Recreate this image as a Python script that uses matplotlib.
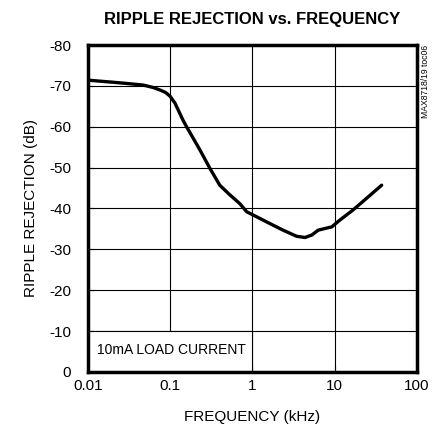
import matplotlib
matplotlib.use('Agg')
from matplotlib import pyplot as plt
from matplotlib.patches import Rectangle
from matplotlib.ticker import FixedLocator, FixedFormatter

plt.rcParams['axes.unicode_minus'] = False
plt.rcParams['font.family'] = ['Liberation Sans Narrow', 'Liberation Sans', 'DejaVu Sans']

# curve
freq = [0.01, 0.02, 0.0295, 0.047, 0.0622, 0.075, 0.0875, 0.0993, 0.114, 0.143, 0.158,
        0.23, 0.304, 0.40, 0.533, 0.70, 0.85, 1.02, 1.49, 2.35, 3.44, 4.35, 5.25, 6.3,
        7.6, 9.2, 11.6, 16.6, 24.4, 37.2]
rej = [-71.4, -70.9, -70.6, -70.2, -69.6, -69.0, -68.4, -67.5, -65.8, -61.6, -60.0,
       -54.3, -49.8, -45.7, -43.3, -41.2, -39.2, -38.4, -36.7, -34.7, -33.2, -32.9,
       -33.5, -34.7, -35.1, -35.5, -37.2, -39.6, -42.5, -45.7]

x_ticks = [0.01, 0.1, 1, 10, 100]
x_labels = ['0.01', '0.1', '1', '10', '100']
y_ticks = [0, -10, -20, -30, -40, -50, -60, -70, -80]
y_labels = ['0', '-10', '-20', '-30', '-40', '-50', '-60', '-70', '-80']

fig = plt.figure(figsize=(4.4, 4.33), dpi=100)
ax = fig.add_axes([0.2, 0.141, 0.7477, 0.755])

ax.set_xscale('log')
ax.set_xlim(0.01, 100)
ax.set_ylim(0, -80)
ax.xaxis.set_major_locator(FixedLocator(x_ticks))
ax.xaxis.set_major_formatter(FixedFormatter(x_labels))
ax.xaxis.set_minor_locator(FixedLocator([]))
ax.yaxis.set_major_locator(FixedLocator(y_ticks))
ax.yaxis.set_major_formatter(FixedFormatter(y_labels))

ax.grid(True, color='black', linewidth=0.8, zorder=1)
ax.tick_params(direction='in', length=4, width=0.8, labelsize=11, color='black')
ax.tick_params(axis='y', pad=12)
ax.tick_params(axis='x', pad=5)
for s in ax.spines.values():
    s.set_linewidth(2.5)

ax.plot(freq, rej, color='black', linewidth=2.4, solid_capstyle='round',
        solid_joinstyle='round', zorder=3)

# label box in lower-left corner
ax.add_patch(Rectangle((0.01, 0), 1 - 0.01, -10, facecolor='white', edgecolor='black',
                       linewidth=0.8, zorder=2))
ax.text(0.0129, -5.4, '10mA LOAD CURRENT', fontsize=10, va='center', ha='left', zorder=4)

ax.set_xlabel('FREQUENCY (kHz)', fontsize=11, labelpad=12)
ax.set_ylabel('RIPPLE REJECTION (dB)', fontsize=11, labelpad=8)
fig.text(0.572, 0.956, 'RIPPLE REJECTION vs. FREQUENCY', fontsize=12, fontweight='bold',
         ha='center', va='center')
fig.text(0.966, 0.813, 'MAX8718/19 toc06', fontsize=6.2, rotation=90, ha='center', va='center')

plt.savefig('out.png', dpi=100)
